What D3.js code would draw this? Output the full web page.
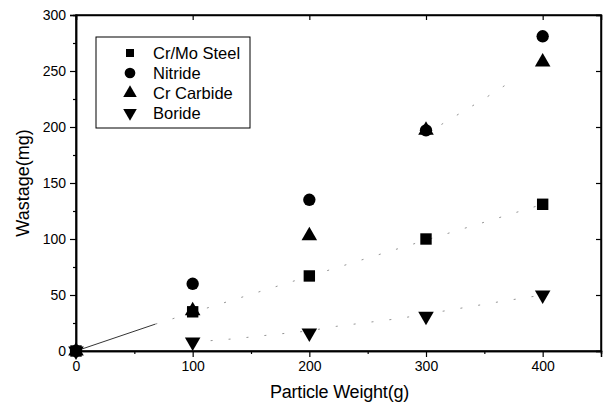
<!DOCTYPE html>
<html>
<head>
<meta charset="utf-8">
<script src="https://cdn.jsdelivr.net/npm/d3@7"></script>
<style>
  body { margin: 0; background: #fff; }
  text { font-family: "Liberation Sans", Arial, sans-serif; fill: #000; }
</style>
</head>
<body>
<svg width="606" height="408"></svg>
<script>
// particle weight (g)
const weights = [0, 100, 200, 300, 400];

// wastage (mg) per coating
const crMoSteel = [0, 35, 67, 100, 131];
const nitride = [0, 60, 135, 197, 281];
const crCarbide = [0, 36, 103, 197, 258];
const boride = [0, 8, 16, 31, 50];

const seriesNames = ["Cr/Mo Steel", "Nitride", "Cr Carbide", "Boride"];

// faint fitted lines
const crMoFitSolid = [[0, 0], [68, 24]];
const crMoFit = [[68, 24], [250, 83], [375, 123], [400, 131]];
const carbideFit = [[300, 194], [348, 224], [372, 240]];
const borideFit = [[100, 8], [137, 11], [154, 13], [200, 18], [223, 22], [277, 29], [363, 44], [400, 50]];

const xTicks = [0, 100, 200, 300, 400];
const yTicks = [0, 50, 100, 150, 200, 250, 300];

const svg = d3.select("svg");
const margin = {left: 76, right: 5, top: 15, bottom: 57};
const width = 606 - margin.left - margin.right;
const height = 408 - margin.top - margin.bottom;

const x = d3.scaleLinear().domain([0, 450]).range([margin.left, margin.left + width]);
const y = d3.scaleLinear().domain([0, 300]).range([margin.top + height, margin.top]);

const g = svg.append("g");

// frame
g.append("rect")
  .attr("x", x(0)).attr("y", y(300))
  .attr("width", x(450) - x(0)).attr("height", y(0) - y(300))
  .attr("fill", "none").attr("stroke", "#000").attr("stroke-width", 1.5);

// bottom axis
const xAxis = g.append("g")
  .attr("transform", `translate(0,${y(0)})`)
  .call(d3.axisBottom(x).tickValues(xTicks).tickSize(6).tickPadding(4));
xAxis.selectAll("text").attr("font-size", 14);
g.append("g")
  .attr("transform", `translate(0,${y(0)})`)
  .call(d3.axisBottom(x).tickValues([50, 150, 250, 350]).tickSize(3).tickFormat(""));

// left axis
const yAxis = g.append("g")
  .attr("transform", `translate(${x(0)},0)`)
  .call(d3.axisLeft(y).tickValues(yTicks).tickSize(6).tickPadding(4));
yAxis.selectAll("text").attr("font-size", 14);
g.append("g")
  .attr("transform", `translate(${x(0)},0)`)
  .call(d3.axisLeft(y).tickValues([25, 75, 125, 175, 225, 275]).tickSize(3).tickFormat(""));

// top and right: inward major ticks
g.append("g")
  .attr("transform", `translate(0,${y(300)})`)
  .call(d3.axisBottom(x).tickValues(xTicks).tickSize(5).tickFormat(""));
g.append("g")
  .attr("transform", `translate(${x(450)},0)`)
  .call(d3.axisLeft(y).tickValues(yTicks).tickSize(5).tickFormat(""));

g.selectAll(".domain").attr("stroke-width", 1.5);
g.selectAll(".tick line").attr("stroke-width", 1.2);

// axis titles
g.append("text")
  .attr("x", (x(0) + x(450)) / 2 + 1).attr("y", 398)
  .attr("text-anchor", "middle").attr("font-size", 18)
  .attr("letter-spacing", -0.2)
  .text("Particle Weight(g)");
g.append("text")
  .attr("transform", `translate(29,${(y(0) + y(300)) / 2}) rotate(-90)`)
  .attr("text-anchor", "middle").attr("font-size", 18)
  .text("Wastage(mg)");

// fit lines
const line = d3.line().x(d => x(d[0])).y(d => y(d[1]));
g.append("path").attr("d", line(crMoFitSolid))
  .attr("fill", "none").attr("stroke", "#000").attr("stroke-width", 0.8);
[crMoFit, carbideFit, borideFit].forEach(pts => {
  g.append("path").attr("d", line(pts))
    .attr("fill", "none").attr("stroke", "#777").attr("stroke-width", 0.8)
    .attr("stroke-dasharray", "2,16");
});

// markers
const shapes = [
  d3.symbol().type(d3.symbolSquare).size(130),
  d3.symbol().type(d3.symbolCircle).size(120),
  d3.symbol().type(d3.symbolTriangle).size(105),
  d3.symbol().type(d3.symbolTriangle).size(105)
];
const rot = [0, 0, 0, 180];
const allSeries = [crMoSteel, nitride, crCarbide, boride];

allSeries.forEach((vals, si) => {
  g.append("g").selectAll("path")
    .data(vals.map((v, i) => [weights[i], v]))
    .join("path")
    .attr("d", shapes[si]())
    .attr("transform", d => `translate(${x(d[0])},${y(d[1])}) rotate(${rot[si]})`)
    .attr("fill", "#000");
});

// legend
const legend = g.append("g");
legend.append("rect")
  .attr("x", 96).attr("y", 37).attr("width", 154).attr("height", 91)
  .attr("fill", "#fff").attr("stroke", "#000").attr("stroke-width", 1);
const legendShapes = [
  d3.symbol().type(d3.symbolSquare).size(64),
  d3.symbol().type(d3.symbolCircle).size(90),
  d3.symbol().type(d3.symbolTriangle).size(80),
  d3.symbol().type(d3.symbolTriangle).size(80)
];
seriesNames.forEach((name, i) => {
  const cy = 53 + i * 20;
  legend.append("path")
    .attr("d", legendShapes[i]())
    .attr("transform", `translate(130,${cy}) rotate(${rot[i]})`)
    .attr("fill", "#000");
  legend.append("text")
    .attr("x", 153).attr("y", cy + 6)
    .attr("font-size", 16.5)
    .text(name);
});
</script>
</body>
</html>
